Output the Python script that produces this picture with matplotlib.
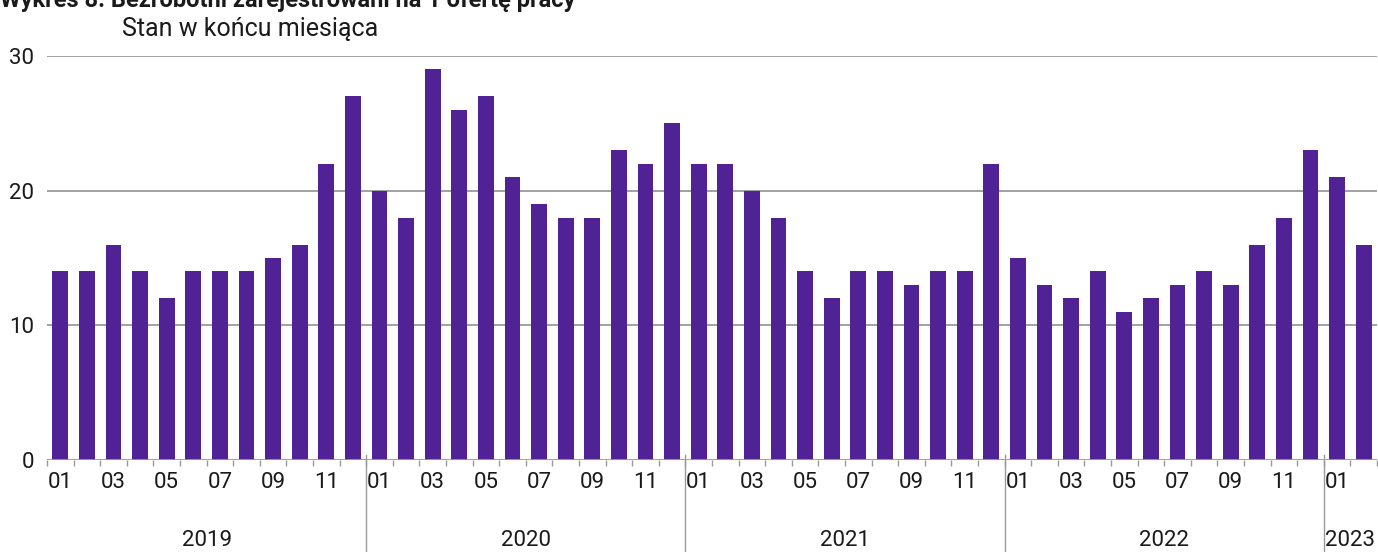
import matplotlib
matplotlib.use("Agg")
import matplotlib.pyplot as plt
import numpy as np

plt.rcParams['font.family'] = ['Roboto', 'DejaVu Sans']

# Dane
years = ['2019', '2020', '2021', '2022', '2023']
months_per_year = [12, 12, 12, 12, 2]
values = [
    14, 14, 16, 14, 12, 14, 14, 14, 15, 16, 22, 27,   # 2019
    20, 18, 29, 26, 27, 21, 19, 18, 18, 23, 22, 25,   # 2020
    22, 22, 20, 18, 14, 12, 14, 14, 13, 14, 14, 22,   # 2021
    15, 13, 12, 14, 11, 12, 13, 14, 13, 16, 18, 23,   # 2022
    21, 16,                                           # 2023
]
month_labels = ['01', '03', '05', '07', '09', '11']
y_ticks = [0, 10, 20, 30]

BAR_COLOR = '#512295'
GRID_COLOR = '#9a9a9a'
TEXT_COLOR = '#1a1a1a'

fig = plt.figure(figsize=(13.78, 5.52), dpi=100)
W, H = 1378, 552
ax = fig.add_axes([47 / W, 1 - 460 / H, 1330 / W, 404 / H])

n = len(values)
x = np.arange(n)
ax.bar(x, values, width=0.6, color=BAR_COLOR, zorder=3)

ax.set_xlim(-0.5, n - 0.5)
ax.set_ylim(0, 30)

# siatka
for yv in y_ticks[1:]:
    ax.axhline(yv, color=GRID_COLOR, linewidth=1.3, zorder=1)
ax.axhline(0, color=GRID_COLOR, linewidth=1.3, zorder=4)

for s in ax.spines.values():
    s.set_visible(False)

ax.set_yticks(y_ticks)
ax.set_yticklabels([str(v) for v in y_ticks], fontsize=16, color=TEXT_COLOR)
ax.tick_params(axis='y', length=0, pad=9)

# drobne kreski między słupkami
ax.set_xticks(np.arange(-0.5, n, 1.0))
ax.set_xticklabels([])
ax.tick_params(axis='x', length=4, width=1, color=GRID_COLOR)

# etykiety miesięcy i lat
start = 0
for yr, cnt in zip(years, months_per_year):
    for m in range(cnt):
        lab = '%02d' % (m + 1)
        if lab in month_labels:
            ax.text(start + m, -0.055, lab, transform=ax.get_xaxis_transform(),
                    ha='center', va='center', fontsize=16, color=TEXT_COLOR)
    ax.text(start + (cnt - 1) / 2, -0.2, yr, transform=ax.get_xaxis_transform(),
            ha='center', va='center', fontsize=16, color=TEXT_COLOR)
    if start > 0:
        ax.plot([start - 0.5, start - 0.5], [0.012, -0.25], color=GRID_COLOR,
                linewidth=1, transform=ax.get_xaxis_transform(), clip_on=False)
    start += cnt

# tytuł (ucięty u góry) i podtytuł
fig.text(0, 1 - 1 / H, 'Wykres 8. Bezrobotni zarejestrowani na 1 ofertę pracy',
         ha='left', va='center', fontsize=17, fontweight='bold', color=TEXT_COLOR)
fig.text(122 / W, 1 - 29 / H, 'Stan w końcu miesiąca', ha='left', va='center',
         fontsize=18, color=TEXT_COLOR)

fig.savefig('out.png', dpi=100, facecolor='white')
